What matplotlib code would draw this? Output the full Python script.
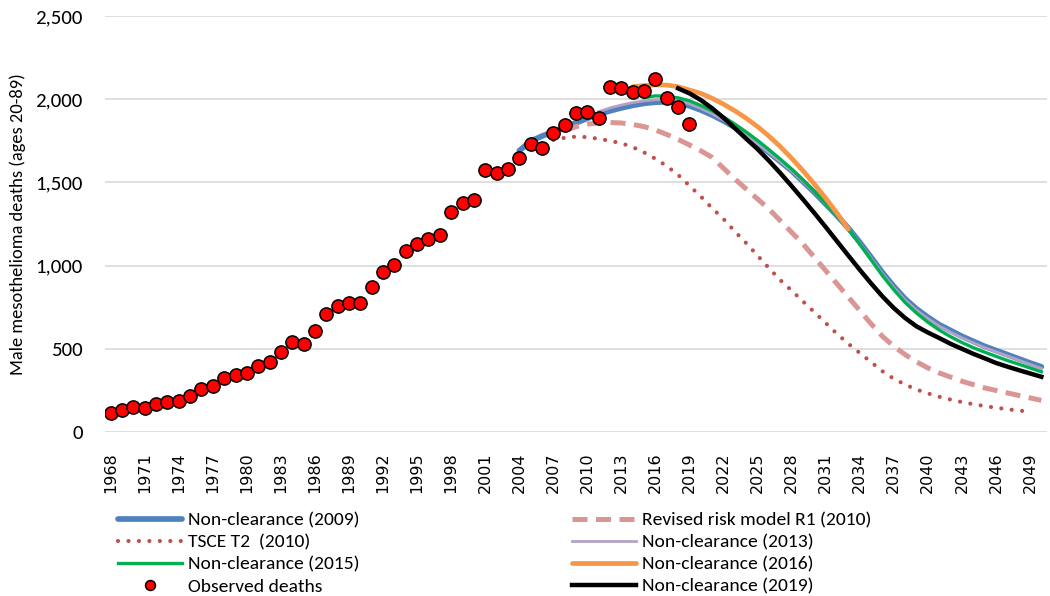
import numpy as np
import matplotlib
matplotlib.use('Agg')
import matplotlib.pyplot as plt
from matplotlib import font_manager
from matplotlib.lines import Line2D

# pick a Calibri-like face from what is installed
names = set(f.name for f in font_manager.fontManager.ttflist)
ui_font = 'DejaVu Sans'
for cand in ['Carlito', 'Liberation Sans Narrow', 'Lato']:
    if cand in names:
        ui_font = cand
        break

# observed deaths, 1968-2019
obs_years = list(range(1968, 2020))
obs_deaths = [114, 132, 150, 144, 168, 180, 186, 216, 258, 276,
              324, 342, 355, 397, 421, 481, 541, 529, 607, 709,
              757, 775, 775, 871, 962, 1004, 1088, 1130, 1160, 1184,
              1322, 1376, 1394, 1577, 1557, 1583, 1649, 1733, 1708, 1798,
              1845, 1915, 1924, 1888, 2074, 2066, 2042, 2050, 2120, 2006,
              1951, 1851]

# Non-clearance (2009), 2004-2050
nc2009_years = list(range(2004, 2051))
nc2009 = [1690, 1748, 1778, 1805, 1830, 1858, 1885, 1910, 1930, 1948,
          1963, 1975, 1982, 1985, 1978, 1960, 1935, 1905, 1870, 1830,
          1780, 1730, 1680, 1625, 1570, 1505, 1440, 1370, 1300, 1225,
          1140, 1050, 958, 875, 800, 740, 690, 645, 610, 575,
          545, 515, 490, 465, 440, 415, 392]

# Revised risk model R1 (2010), 2008-2050
r1_years = list(range(2008, 2051))
r1 = [1810, 1835, 1850, 1858, 1860, 1857, 1848, 1835, 1815, 1788,
      1758, 1725, 1690, 1650, 1585, 1520, 1460, 1400, 1340, 1270,
      1200, 1130, 1050, 970, 890, 810, 730, 650, 575, 515,
      465, 422, 385, 355, 330, 305, 285, 265, 250, 235,
      220, 205, 190]

# TSCE T2 (2010), 2007-2049
tsce_years = list(range(2007, 2050))
tsce = [1755, 1768, 1775, 1772, 1762, 1750, 1735, 1712, 1680, 1642,
        1598, 1545, 1480, 1415, 1345, 1280, 1205, 1135, 1060, 985,
        913, 850, 785, 720, 655, 590, 530, 475, 420, 365,
        320, 285, 255, 232, 212, 195, 180, 167, 156, 146,
        137, 129, 122]

# Non-clearance (2013), 2011-2050
nc2013_years = list(range(2011, 2051))
nc2013 = [1925, 1948, 1965, 1980, 1990, 1997, 1998, 1990, 1972, 1945,
          1912, 1875, 1832, 1785, 1733, 1680, 1625, 1568, 1505, 1440,
          1370, 1298, 1222, 1135, 1045, 952, 868, 793, 732, 682,
          637, 600, 566, 536, 507, 482, 457, 432, 406, 382]

# Non-clearance (2015), 2015-2050
nc2015_years = list(range(2015, 2051))
nc2015 = [2010, 2020, 2018, 2008, 1990, 1962, 1930, 1893, 1850, 1803,
          1752, 1697, 1640, 1580, 1515, 1445, 1372, 1298, 1220, 1130,
          1035, 940, 855, 778, 715, 660, 613, 573, 538, 507,
          480, 455, 430, 408, 385, 362]

# Non-clearance (2016), 2014-2033
nc2016_years = list(range(2014, 2034))
nc2016 = [2075, 2082, 2086, 2085, 2075, 2055, 2035, 2005, 1970, 1930,
          1885, 1835, 1778, 1715, 1645, 1570, 1490, 1405, 1315, 1220]

# Non-clearance (2019), 2018-2050
nc2019_years = list(range(2018, 2051))
nc2019 = [2065, 2035, 1995, 1945, 1888, 1826, 1762, 1700, 1630, 1556,
          1478, 1398, 1316, 1232, 1146, 1060, 975, 893, 815, 745,
          685, 635, 598, 565, 530, 500, 470, 443, 415, 393,
          372, 352, 332]

tick_years = list(range(1968, 2051, 3))
y_ticks = [0, 500, 1000, 1500, 2000, 2500]

fig = plt.figure(figsize=(10.5, 5.96), dpi=100)
ax = fig.add_axes([105 / 1050, 1 - 432 / 596, (1047 - 105) / 1050, (432 - 16) / 596])

h_blue, = ax.plot(nc2009_years, nc2009, color='#4F81BD', lw=4.1, solid_capstyle='round', zorder=2)
h_r1, = ax.plot(r1_years, r1, color='#DA9694', lw=3.6, dashes=(3.0, 1.7), zorder=2)
h_tsce, = ax.plot(tsce_years, tsce, color='#C0504D', lw=3.0, dashes=(0.01, 2.5),
                  dash_capstyle='round', zorder=2)
h_pur, = ax.plot(nc2013_years, nc2013, color='#B3A2C7', lw=2.0, zorder=3)
h_grn, = ax.plot(nc2015_years, nc2015, color='#00B050', lw=2.4, zorder=4)
h_org, = ax.plot(nc2016_years, nc2016, color='#F79646', lw=3.4, solid_capstyle='round', zorder=5)
h_blk, = ax.plot(nc2019_years, nc2019, color='black', lw=3.2, zorder=6)
h_obs, = ax.plot(obs_years, obs_deaths, 'o', ms=9.5, mfc='#FF0000', mec='black', mew=1.1, zorder=7)

ax.set_xlim(1967.5, 2050.5)
ax.set_ylim(0, 2500)
ax.set_yticks(y_ticks)
ax.set_yticklabels(['{:,}'.format(v) for v in y_ticks], fontsize=15, family=ui_font)
ax.set_xticks(tick_years)
ax.set_xticklabels([str(y) for y in tick_years], rotation=90, fontsize=11.5, family='DejaVu Sans')
ax.tick_params(axis='y', length=0, pad=16)
ax.tick_params(axis='x', length=0, pad=14.5)
ax.grid(axis='y', color='#D9D9D9', lw=1.2)
ax.set_axisbelow(True)
for s in ax.spines.values():
    s.set_visible(False)
ax.set_ylabel('Male mesothelioma deaths (ages 20-89)', fontsize=13.3, family=ui_font, labelpad=7)

leg_kw = dict(frameon=False, handlelength=3.3, handletextpad=0.3,
              labelspacing=0.28, borderpad=0, borderaxespad=0, loc='upper left',
              prop={'family': ui_font, 'size': 14}, markerscale=0.75)
obs_h = Line2D([], [], ls='none', marker='o', ms=9.5, mfc='#FF0000', mec='black', mew=1.1)
leg1 = fig.legend([h_blue, h_tsce, h_grn, obs_h],
                  ['Non-clearance (2009)', 'TSCE T2  (2010)', 'Non-clearance (2015)', 'Observed deaths'],
                  bbox_to_anchor=(118 / 1050, 1 - 512 / 596), **leg_kw)
leg2 = fig.legend([h_r1, h_pur, h_org, h_blk],
                  ['Revised risk model R1 (2010)', 'Non-clearance (2013)', 'Non-clearance (2016)',
                   'Non-clearance (2019)'],
                  bbox_to_anchor=(572 / 1050, 1 - 512 / 596), **leg_kw)

fig.savefig('out.png', dpi=100)
